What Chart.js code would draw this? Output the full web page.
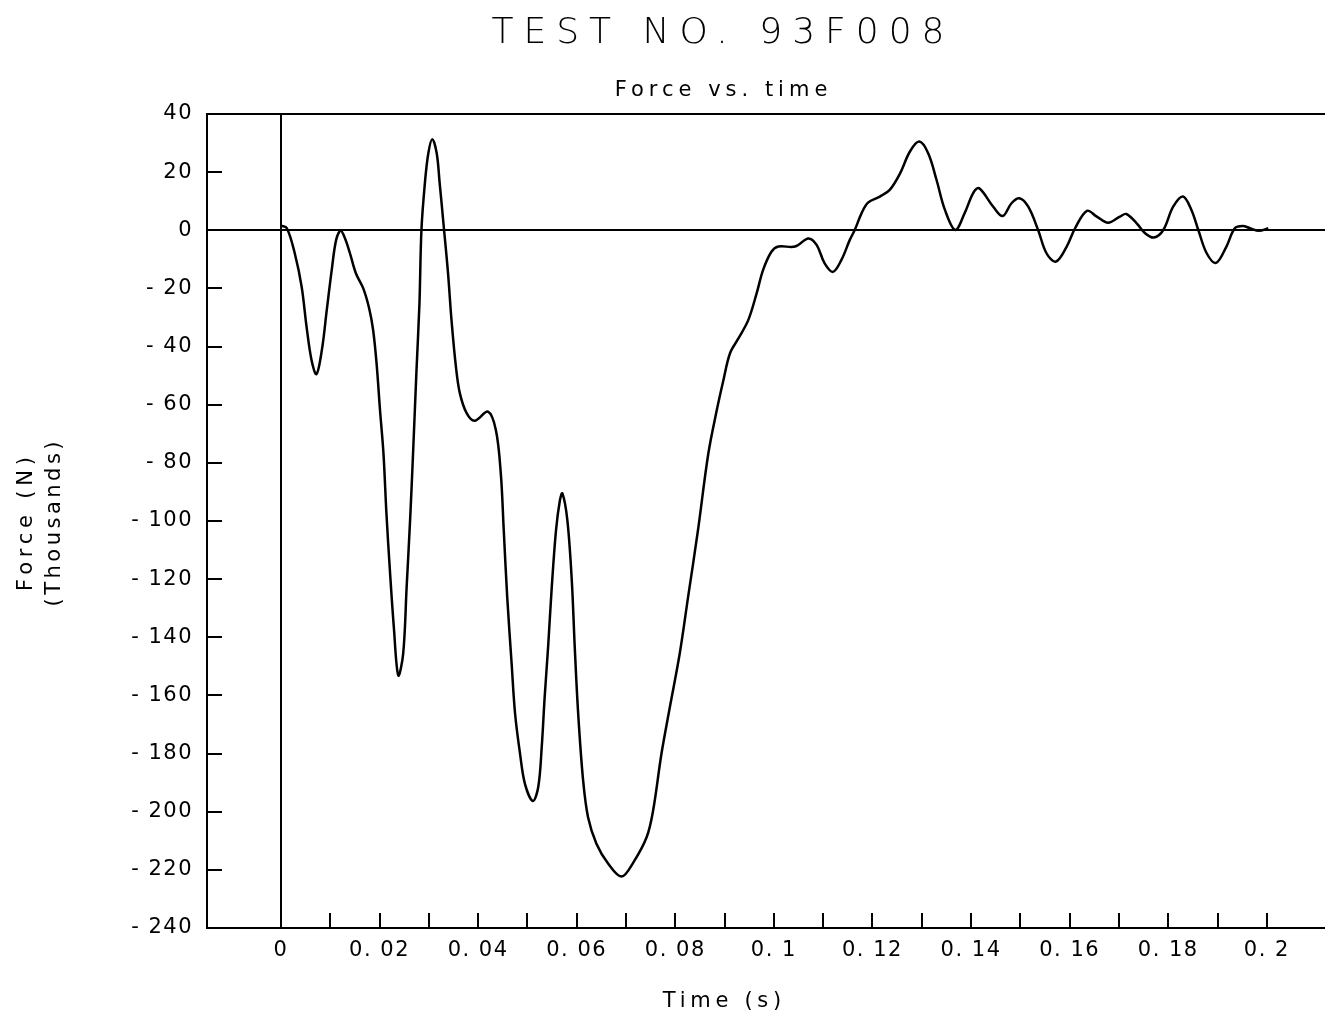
<!DOCTYPE html>
<html>
<head>
<meta charset="utf-8">
<title>TEST NO. 93F008</title>
<script src="https://cdn.jsdelivr.net/npm/chart.js@4.4.1/dist/chart.umd.min.js"></script>
<style>
  html, body { margin: 0; padding: 0; background: #fff; overflow: hidden; }
  #wrap { width: 1325px; height: 1016px; }
</style>
</head>
<body>
<div id="wrap"><canvas id="forceChart" width="1325" height="1016"></canvas></div>
<script>
// text
const chartTitle = 'TEST NO. 93F008';
const chartSubtitle = 'Force vs. time';
const xAxisTitle = 'Time (s)';
const yAxisTitle = ['Force (N)', '(Thousands)'];

// tick marks and labels
const timeTicks = [0, 0.01, 0.02, 0.03, 0.04, 0.05, 0.06, 0.07, 0.08, 0.09, 0.1,
  0.11, 0.12, 0.13, 0.14, 0.15, 0.16, 0.17, 0.18, 0.19, 0.2];
const timeLabelValues = [0, 0.02, 0.04, 0.06, 0.08, 0.1, 0.12, 0.14, 0.16, 0.18, 0.2];
const timeLabelText = ['0', '0. 02', '0. 04', '0. 06', '0. 08', '0. 1', '0. 12', '0. 14', '0. 16', '0. 18', '0. 2'];
const forceTicks = [40, 20, 0, -20, -40, -60, -80, -100, -120, -140, -160, -180, -200, -220, -240];

// sampled trace: time (s) and force (thousands of N)
const timeValues = [
  0.0000, 0.0012, 0.0028, 0.0042, 0.0052, 0.0062, 0.0072, 0.0083, 0.0093, 0.0103,
  0.0112, 0.0121, 0.0130, 0.0140, 0.0152, 0.0167, 0.0179, 0.0187, 0.0194, 0.0201,
  0.0208, 0.0214, 0.0221, 0.0229, 0.0238, 0.0248, 0.0255, 0.0262, 0.0268, 0.0275,
  0.0281, 0.0285, 0.0292, 0.0299, 0.0307, 0.0316, 0.0322, 0.0331, 0.0339, 0.0346,
  0.0355, 0.0363, 0.0377, 0.0393, 0.0420, 0.0436, 0.0446, 0.0452, 0.0459, 0.0468,
  0.0475, 0.0485, 0.0495, 0.0511, 0.0522, 0.0529, 0.0535, 0.0542, 0.0549, 0.0558,
  0.0566, 0.0571, 0.0581, 0.0590, 0.0596, 0.0603, 0.0613, 0.0623, 0.0640, 0.0664,
  0.0691, 0.0715, 0.0742, 0.0755, 0.0772, 0.0789, 0.0809, 0.0826, 0.0846, 0.0867,
  0.0884, 0.0897, 0.0911, 0.0928, 0.0948, 0.0965, 0.0978, 0.0995, 0.1009, 0.1043,
  0.1070, 0.1087, 0.1103, 0.1120, 0.1137, 0.1154, 0.1164, 0.1178, 0.1191, 0.1215,
  0.1235, 0.1256, 0.1276, 0.1295, 0.1313, 0.1330, 0.1347, 0.1368, 0.1387, 0.1404,
  0.1416, 0.1445, 0.1464, 0.1482, 0.1498, 0.1516, 0.1536, 0.1553, 0.1572, 0.1594,
  0.1611, 0.1635, 0.1655, 0.1678, 0.1702, 0.1715, 0.1736, 0.1753, 0.1771, 0.1790,
  0.1810, 0.1830, 0.1847, 0.1861, 0.1878, 0.1897, 0.1918, 0.1935, 0.1951, 0.1966,
  0.1984, 0.2003
];
const forceValues = [
  1.6, 0.7, -7.9, -19.4, -33.2, -44.6, -49.5, -41.2, -27.4, -13.7,
  -3.3, -0.2, -2.8, -7.9, -14.8, -20.0, -26.9, -34.3, -45.8, -61.9,
  -76.8, -97.4, -116.9, -136.5, -153.1, -145.6, -122.7, -99.7, -76.8, -48.1,
  -25.1, 0.0, 16.2, 26.5, 31.3, 26.5, 16.2, 0.0, -14.8, -30.9,
  -47.0, -56.1, -63.0, -65.5, -62.4, -68.7, -83.6, -103.2, -126.1, -149.1,
  -166.3, -180.0, -190.4, -196.3, -191.5, -177.8, -160.6, -143.3, -123.8, -103.2,
  -92.8, -90.5, -99.7, -120.4, -143.3, -166.3, -189.2, -201.9, -211.0, -217.9,
  -222.3, -217.4, -208.7, -199.6, -180.0, -164.0, -145.6, -126.1, -103.2, -76.8,
  -62.0, -52.0, -42.3, -37.2, -30.9, -21.7, -13.7, -7.4, -5.6, -5.6,
  -2.8, -5.1, -11.4, -14.3, -10.2, -3.3, 0.1, 5.9, 9.5, 11.6,
  13.9, 19.6, 27.1, 30.5, 26.5, 17.3, 7.0, 0.1, 5.9, 12.7,
  14.5, 8.1, 4.9, 9.3, 11.0, 8.1, 0.1, -7.9, -10.8, -5.6,
  0.7, 6.7, 4.7, 2.6, 4.7, 5.6, 2.4, -1.0, -2.5, 0.1,
  8.1, 11.6, 7.0, 0.1, -7.9, -11.2, -5.6, 0.7, 1.5, 0.7,
  -0.2, 0.7
];

const tickFont = { family: '"DejaVu Sans", sans-serif', size: 21 };

function timeLabel(v) {
  const i = timeLabelValues.findIndex(t => Math.abs(t - v) < 1e-9);
  return i < 0 ? '' : timeLabelText[i];
}

function forceLabel(v) {
  return v < 0 ? '- ' + Math.abs(v) : String(v);
}

// black line only where the value is zero, tick marks everywhere
function zeroLineColor(ctx) {
  return ctx.tick && ctx.tick.value === 0 ? '#000' : 'rgba(0,0,0,0)';
}

function drawSpaced(ctx, text, x, y, font, spacing, angle) {
  ctx.save();
  ctx.translate(x, y);
  if (angle) ctx.rotate(angle);
  ctx.font = font;
  ctx.letterSpacing = spacing + 'px';
  ctx.textAlign = 'left';
  ctx.textBaseline = 'alphabetic';
  const w = ctx.measureText(text).width - spacing;
  ctx.fillText(text, -w / 2, 0);
  ctx.restore();
}

const plotterText = {
  id: 'plotterText',
  beforeUpdate(chart) {
    chart.ctx.letterSpacing = '1.5px';
  },
  afterDraw(chart) {
    const ctx = chart.ctx;
    ctx.save();
    ctx.fillStyle = '#000';
    drawSpaced(ctx, chartTitle, 718, 43, '300 36px "DejaVu Sans"', 10);
    drawSpaced(ctx, chartSubtitle, 721, 96, '21px "DejaVu Sans"', 5);
    drawSpaced(ctx, xAxisTitle, 722, 1007, '21px "DejaVu Sans"', 4.7);
    drawSpaced(ctx, yAxisTitle[0], 32, 524, '21px "DejaVu Sans"', 4.8, -Math.PI / 2);
    drawSpaced(ctx, yAxisTitle[1], 60, 524, '21px "DejaVu Sans"', 3.5, -Math.PI / 2);
    ctx.restore();
  }
};

const points = timeValues.map((t, i) => ({ x: t, y: forceValues[i] }));

new Chart(document.getElementById('forceChart'), {
  type: 'line',
  data: {
    datasets: [{
      data: points,
      borderColor: '#000',
      borderWidth: 2.5,
      pointRadius: 0,
      fill: false,
      tension: 0.35,
      xAxisID: 'x',
      yAxisID: 'y'
    }]
  },
  options: {
    responsive: false,
    animation: false,
    events: [],
    layout: { padding: { top: 114, right: 0, bottom: 0, left: 0 } },
    plugins: {
      legend: { display: false },
      tooltip: { enabled: false },
      title: { display: false }
    },
    scales: {
      x: {
        type: 'linear',
        position: 'bottom',
        min: -0.015,
        max: 0.2118,
        afterBuildTicks: s => { s.ticks = timeTicks.map(v => ({ value: v })); },
        afterFit: s => { s.height = 88; },
        grid: {
          color: zeroLineColor,
          lineWidth: 2,
          tickColor: '#000',
          tickWidth: 2,
          tickLength: -15
        },
        border: { display: true, color: '#000', width: 2 },
        ticks: {
          autoSkip: false,
          maxRotation: 0,
          color: '#000',
          font: tickFont,
          padding: 25,
          callback: v => timeLabel(v)
        }
      },
      xTop: {
        type: 'linear',
        position: 'top',
        min: -0.015,
        max: 0.2118,
        afterFit: s => { s.height = 0; },
        grid: { display: false, drawTicks: false },
        border: { display: true, color: '#000', width: 2 },
        ticks: { display: false }
      },
      y: {
        type: 'linear',
        position: 'left',
        min: -240,
        max: 40,
        afterBuildTicks: s => { s.ticks = forceTicks.map(v => ({ value: v })); },
        afterFit: s => { s.width = 207; },
        grid: {
          color: zeroLineColor,
          lineWidth: 2,
          tickColor: '#000',
          tickWidth: 2,
          tickLength: -15
        },
        border: { display: true, color: '#000', width: 2 },
        ticks: {
          color: '#000',
          font: tickFont,
          padding: 29,
          callback: v => forceLabel(v)
        }
      }
    }
  },
  plugins: [plotterText]
});
</script>
</body>
</html>
